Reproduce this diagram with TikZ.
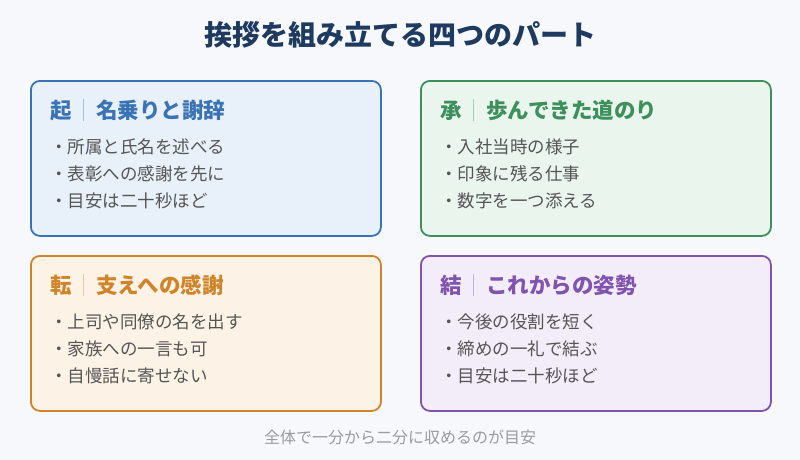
\documentclass[tikz,border=0pt]{standalone}
\usepackage{fontspec}
\setmainfont{Noto Sans CJK JP}
\usepackage{xcolor}
\usetikzlibrary{positioning, calc}
\definecolor{pagebg}{HTML}{F6F8FC}
\definecolor{titlenavy}{HTML}{1E3A5F}
\definecolor{bodygray}{HTML}{555555}
\definecolor{notegray}{HTML}{9A9A9A}
\definecolor{kiline}{HTML}{3A73B5}
\definecolor{kifill}{HTML}{E8F0FA}
\definecolor{sholine}{HTML}{3D8F5C}
\definecolor{shofill}{HTML}{EAF5EE}
\definecolor{tenline}{HTML}{D0842A}
\definecolor{tenfill}{HTML}{FDF2E6}
\definecolor{ketsuline}{HTML}{8053AE}
\definecolor{ketsufill}{HTML}{F3ECF9}

\tikzset{
  partbox/.style={draw=#1line, fill=#1fill, line width=1.8pt, rounded corners=9pt,
    minimum width=350pt, minimum height=155pt, anchor=north west, inner sep=0pt},
  head/.style={text=#1line, font=\fontsize{21.5}{25}\selectfont\bfseries, inner sep=0pt, anchor=base west},
  divider/.style={draw=#1line!45, line width=1pt},
  item/.style={text=bodygray, font=\fontsize{17.5}{21}\selectfont, inner sep=0pt, anchor=base west}
}

\begin{document}
\begin{tikzpicture}[x=1pt, y=-1pt]
    \fill[pagebg] (0,0) rectangle (800,460);
    \useasboundingbox (0,0) rectangle (800,460);

    \node[text=titlenavy, font=\fontsize{28}{32}\selectfont\bfseries, anchor=base, inner sep=0pt]
      (title) at (400,45.5) {挨拶を組み立てる四つのパート};

    % 起
    \node[partbox=ki] (kiBox) at (30,80) {};
    \node[head=ki] (kiMark) at (50,118) {起};
    \node[head=ki, right=24pt of kiMark.base east, anchor=base west] (kiHead) {名乗りと謝辞};
    \draw[divider=ki] ($(kiMark.east)!0.5!(kiHead.west)$) +(0,-11) -- +(0,11);
    \node[item] (kiA) at (50,153) {・所属と氏名を述べる};
    \node[item] (kiB) at (50,180) {・表彰への感謝を先に};
    \node[item] (kiC) at (50,207) {・目安は二十秒ほど};

    % 承
    \node[partbox=sho] (shoBox) at (420,80) {};
    \node[head=sho] (shoMark) at (440,118) {承};
    \node[head=sho, right=24pt of shoMark.base east, anchor=base west] (shoHead) {歩んできた道のり};
    \draw[divider=sho] ($(shoMark.east)!0.5!(shoHead.west)$) +(0,-11) -- +(0,11);
    \node[item] (shoA) at (440,153) {・入社当時の様子};
    \node[item] (shoB) at (440,180) {・印象に残る仕事};
    \node[item] (shoC) at (440,207) {・数字を一つ添える};

    % 転
    \node[partbox=ten] (tenBox) at (30,255) {};
    \node[head=ten] (tenMark) at (50,293) {転};
    \node[head=ten, right=24pt of tenMark.base east, anchor=base west] (tenHead) {支えへの感謝};
    \draw[divider=ten] ($(tenMark.east)!0.5!(tenHead.west)$) +(0,-11) -- +(0,11);
    \node[item] (tenA) at (50,328) {・上司や同僚の名を出す};
    \node[item] (tenB) at (50,355) {・家族への一言も可};
    \node[item] (tenC) at (50,382) {・自慢話に寄せない};

    % 結
    \node[partbox=ketsu] (ketsuBox) at (420,255) {};
    \node[head=ketsu] (ketsuMark) at (440,293) {結};
    \node[head=ketsu, right=24pt of ketsuMark.base east, anchor=base west] (ketsuHead) {これからの姿勢};
    \draw[divider=ketsu] ($(ketsuMark.east)!0.5!(ketsuHead.west)$) +(0,-11) -- +(0,11);
    \node[item] (ketsuA) at (440,328) {・今後の役割を短く};
    \node[item] (ketsuB) at (440,355) {・締めの一礼で結ぶ};
    \node[item] (ketsuC) at (440,382) {・目安は二十秒ほど};

    \node[text=notegray, font=\fontsize{16}{19}\selectfont, anchor=base, inner sep=0pt]
      (note) at (400,443) {全体で一分から二分に収めるのが目安};
\end{tikzpicture}
\end{document}
